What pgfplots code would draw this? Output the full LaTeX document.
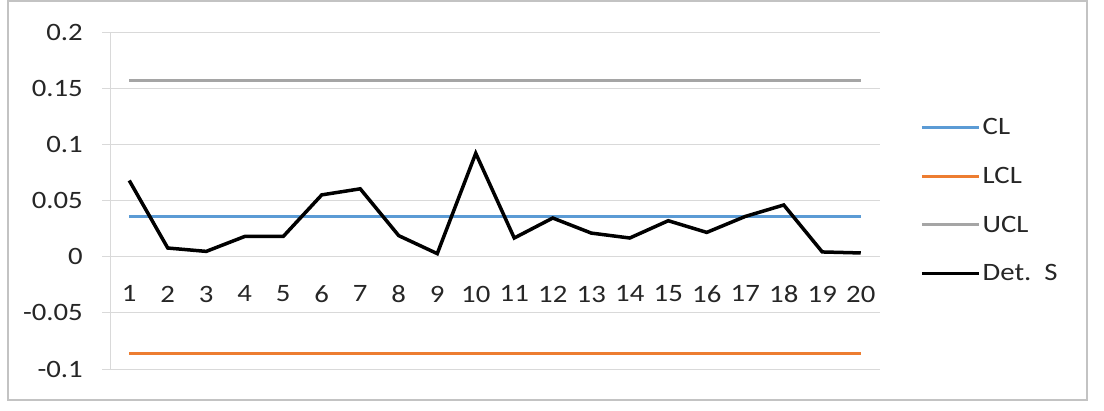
\documentclass[border=0pt]{standalone}
\usepackage{pgfplots}
\pgfplotsset{compat=1.18}
\usepackage{fontspec}
\setmainfont[FakeStretch=1.15]{Carlito}
\definecolor{clblue}{HTML}{5B9BD5}
\definecolor{lclorange}{HTML}{ED7D31}
\definecolor{uclgray}{HTML}{A5A5A5}
\definecolor{gridgray}{HTML}{D9D9D9}
\begin{document}
\begin{tikzpicture}[x=1pt,y=1pt]
\useasboundingbox (0,0) rectangle (1104,410);
\draw[draw=gridgray!90!black,line width=1.2pt] (8,10) rectangle (1087,409);
\begin{axis}[
  at={(110pt,41pt)}, anchor=south west,
  scale only axis, width=770pt, height=337pt,
  xmin=0.5, xmax=20.5, ymin=-0.1, ymax=0.2,
  axis x line=middle, axis y line=left,
  axis line style={-, draw=gridgray, line width=1pt},
  xtick={1,...,20},
  minor xtick={0.5,1.5,...,20.5},
  ytick={-0.1,-0.05,0,0.05,0.1,0.15,0.2},
  yticklabels={-0.1,-0.05,0,0.05,0.1,0.15,0.2},
  /pgf/number format/assume math mode=true,
  ymajorgrids, grid style={draw=gridgray, line width=1pt},
  tick align=outside,
  major tick length=8pt, minor tick length=9pt,
  xtick style={draw=none},
  minor tick style={draw=gridgray, line width=1pt},
  ytick style={draw=gridgray, line width=1pt},
  tick label style={font=\fontsize{25}{29}\selectfont, text=black!85},
  y tick label style={inner sep=0pt, xshift=-19pt},
  x tick label style={inner sep=0pt, yshift=-21pt},
  clip=false,
  legend style={at={(1,0.5)}, anchor=west, xshift=40pt, draw=none, fill=none,
    font=\fontsize{25}{29}\selectfont, row sep=27pt, inner sep=0pt,
    nodes={inner sep=2pt, text=black!85}},
  legend cell align=left,
  legend image code/.code={\draw[#1] (0pt,0pt) -- (57pt,0pt);},
]
\addplot[clblue, line width=3pt] coordinates {(1,0.0356) (20,0.0356)};
\addlegendentry{CL}
\addplot[lclorange, line width=3pt] coordinates {(1,-0.086) (20,-0.086)};
\addlegendentry{LCL}
\addplot[uclgray, line width=3pt] coordinates {(1,0.157) (20,0.157)};
\addlegendentry{UCL}
\addplot[black, line width=3.5pt, line join=miter] coordinates {
(1,0.0678) (2,0.0077) (3,0.0047) (4,0.018) (5,0.018)
(6,0.055) (7,0.0604) (8,0.0187) (9,0.0027) (10,0.092)
(11,0.0166) (12,0.0344) (13,0.021) (14,0.0166) (15,0.032)
(16,0.0216) (17,0.0358) (18,0.046) (19,0.0042) (20,0.0033)};
\addlegendentry{Det.\ \ S}
\end{axis}
\end{tikzpicture}
\end{document}
